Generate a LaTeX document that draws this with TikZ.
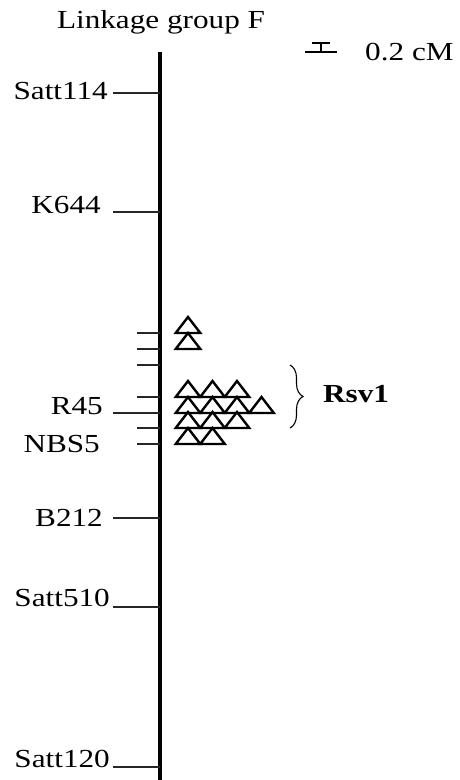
\documentclass[tikz,border=0pt]{standalone}
\usepackage{fontspec}
\setmainfont{Liberation Serif}
\usetikzlibrary{decorations.pathreplacing}
\newcommand{\wide}[1]{\scalebox{1.2}[1]{#1}}
\begin{document}
\begin{tikzpicture}[x=1pt,y=-1pt,
  txt/.style={font=\fontsize{26}{30}\selectfont, inner sep=0pt},
  lbl/.style={txt, anchor=east},
  tickline/.style={line width=1.1pt, draw=black!85},
  chrom/.style={line width=3.5pt},
  tri/.style={line width=2.4pt, line join=miter},
  bar/.style={line width=1.5pt}]
\useasboundingbox (0,0) rectangle (459,780);

% title
\node[txt, anchor=base] (title) at (161,28) {\wide{Linkage group F}};

% scale bar
\coordinate (sbtl) at (312,43); \coordinate (sbtr) at (330,43);
\coordinate (sbbl) at (305,52); \coordinate (sbbr) at (337,52);
\coordinate (sbt) at (321,43); \coordinate (sbb) at (321,52);
\draw[bar] (sbtl) -- (sbtr);
\draw[bar] (sbbl) -- (sbbr);
\draw[bar] (sbt) -- (sbb);
\node[txt, anchor=base west] (scale) at (365,60) {\wide{0.2 cM}};

% chromosome
\coordinate (ctop) at (160,52);
\coordinate (cbot) at (160,780);
\draw[chrom] (ctop) -- (cbot);

% long ticks with labels
\foreach \nm/\ty/\lx/\ly in {Satt114/93/108/91, K644/212/101/205, R45/413/103/406, B212/518/103/518, Satt510/607/110/598, Satt120/767/110/759}{
  \coordinate (t-\nm) at (113,\ty);
  \coordinate (c-\nm) at (160,\ty);
  \draw[tickline] (t-\nm) -- (c-\nm);
  \node[lbl] (l-\nm) at (\lx,\ly) {\wide{\nm}};
}
\node[lbl] (l-NBS5) at (100,444) {\wide{NBS5}};

% short ticks
\foreach \ty [count=\i] in {333,349,365,397,428,444}{
  \coordinate (s\i) at (137,\ty);
  \coordinate (sc\i) at (160,\ty);
  \draw[tickline] (s\i) -- (sc\i);
}

% triangles: base y / list of centres
\foreach \yb/\xs in {333/{188}, 349/{188}, 397/{188,212.5,237}, 413/{188,212.5,237,261.5}, 428/{188,212.5,237}, 444/{188,212.5}}{
  \foreach \xc in \xs {
    \draw[tri] (\xc-12.3,\yb) -- (\xc,\yb-16) -- (\xc+12.3,\yb) -- cycle;
  }
}

% brace and gene label
\coordinate (btop) at (290,365);
\coordinate (bbot) at (290,428);
\draw[line width=1.1pt, decorate, decoration={brace, amplitude=13pt}] (btop) -- (bbot);
\node[txt, anchor=base west, font=\fontsize{26}{30}\selectfont\bfseries] (rsv) at (323,402) {\wide{Rsv1}};
\end{tikzpicture}
\end{document}
